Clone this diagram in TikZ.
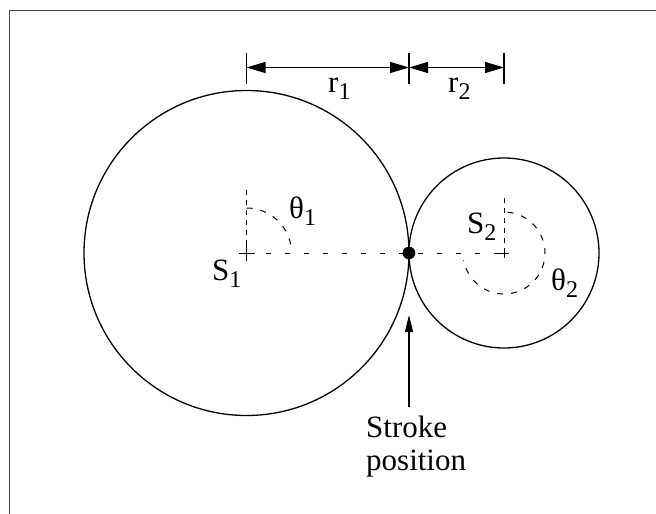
\documentclass[tikz,border=0pt]{standalone}
\usepackage{fontspec}
\setmainfont{Liberation Serif}
\usetikzlibrary{arrows.meta,calc}
\newcommand\sbs[1]{\raisebox{-7pt}{\fontsize{24}{24}\selectfont #1}}
\begin{document}
\begin{tikzpicture}[x=1pt,y=-1pt,
  frame/.style={draw=black!70,line width=1.8pt},
  circ/.style={draw=black,line width=1.3pt},
  vdash/.style={draw=black,line width=1pt,dash pattern=on 5pt off 5pt},
  hdash/.style={draw=black,line width=1pt,dash pattern=on 5pt off 14pt},
  adash/.style={draw=black,line width=1pt,dash pattern=on 6pt off 8pt},
  tick/.style={draw=black,line width=1.2pt},
  dimarrow/.style={draw=black,line width=1.2pt,{Triangle[length=19pt,width=11pt]}-{Triangle[length=19pt,width=11pt]}},
  ptarrow/.style={draw=black,line width=1.2pt,-{Triangle[length=17pt,width=8pt]}},
  lbl/.style={inner sep=0pt,anchor=base west,font=\fontsize{31}{33}\selectfont}]
\useasboundingbox (0,0) rectangle (656,514);
\draw[frame] (9.5,514) -- (9.5,10.5) -- (656,10.5);
% centres and contact
\coordinate (S1) at (246.5,253);
\coordinate (S2) at (504,253);
\coordinate (P) at (409,253);
% circles
\draw[circ] (S1) circle (162.5);
\draw[circ] (S2) circle (95);
% dimension ticks
\coordinate (t1a) at (246.5,53); \coordinate (t1b) at (246.5,84);
\coordinate (t2a) at (409,53);   \coordinate (t2b) at (409,84);
\coordinate (t3a) at (504,53);   \coordinate (t3b) at (504,84);
\draw[tick] (t1a) -- (t1b);
\draw[tick] (t2a) -- (t2b);
\draw[tick] (t3a) -- (t3b);
\coordinate (d1) at (246.5,67.5);
\coordinate (d2) at (409,67.5);
\coordinate (d3) at (504,67.5);
\draw[dimarrow] (d1) -- (d2);
\draw[dimarrow] (d2) -- (d3);
\node[lbl] (r1) at (328,92) {r\sbs{1}};
\node[lbl] (r2) at (448,92) {r\sbs{2}};
% reference lines
\coordinate (v1) at (246.5,190);
\coordinate (v2) at (504,198);
\draw[vdash] (v1) -- (S1);
\draw[vdash] (v2) -- (S2);
\draw[hdash] (S1) -- (S2);
% crosses
\draw[line width=1pt] ($(S1)+(-8,0)$) -- ($(S1)+(8,0)$) ($(S1)+(0,-8)$) -- ($(S1)+(0,8)$);
\draw[line width=0.9pt] ($(S2)+(-5,0)$) -- ($(S2)+(5,0)$) ($(S2)+(0,-5)$) -- ($(S2)+(0,5)$);
% angle arcs
\draw[adash] ($(S1)+(-90:45)$) arc[start angle=-90,end angle=-5,radius=45];
\draw[adash] ($(S2)+(-85:41)$) arc[start angle=-85,end angle=170,radius=41];
% contact point
\fill (P) circle (6.3);
% labels
\node[lbl] (s1) at (212,280) {S\sbs{1}};
\node[lbl] (s2) at (467,233) {S\sbs{2}};
\node[lbl] (th1) at (289,218) {θ\sbs{1}};
\node[lbl] (th2) at (551,290) {θ\sbs{2}};
% stroke position
\node[lbl,align=left] (sp) at (366,470) {Stroke\\position};
\coordinate (tip) at (409,315);
\coordinate (tail) at (409,407);
\draw[ptarrow] (tail) -- (tip);
\end{tikzpicture}
\end{document}
